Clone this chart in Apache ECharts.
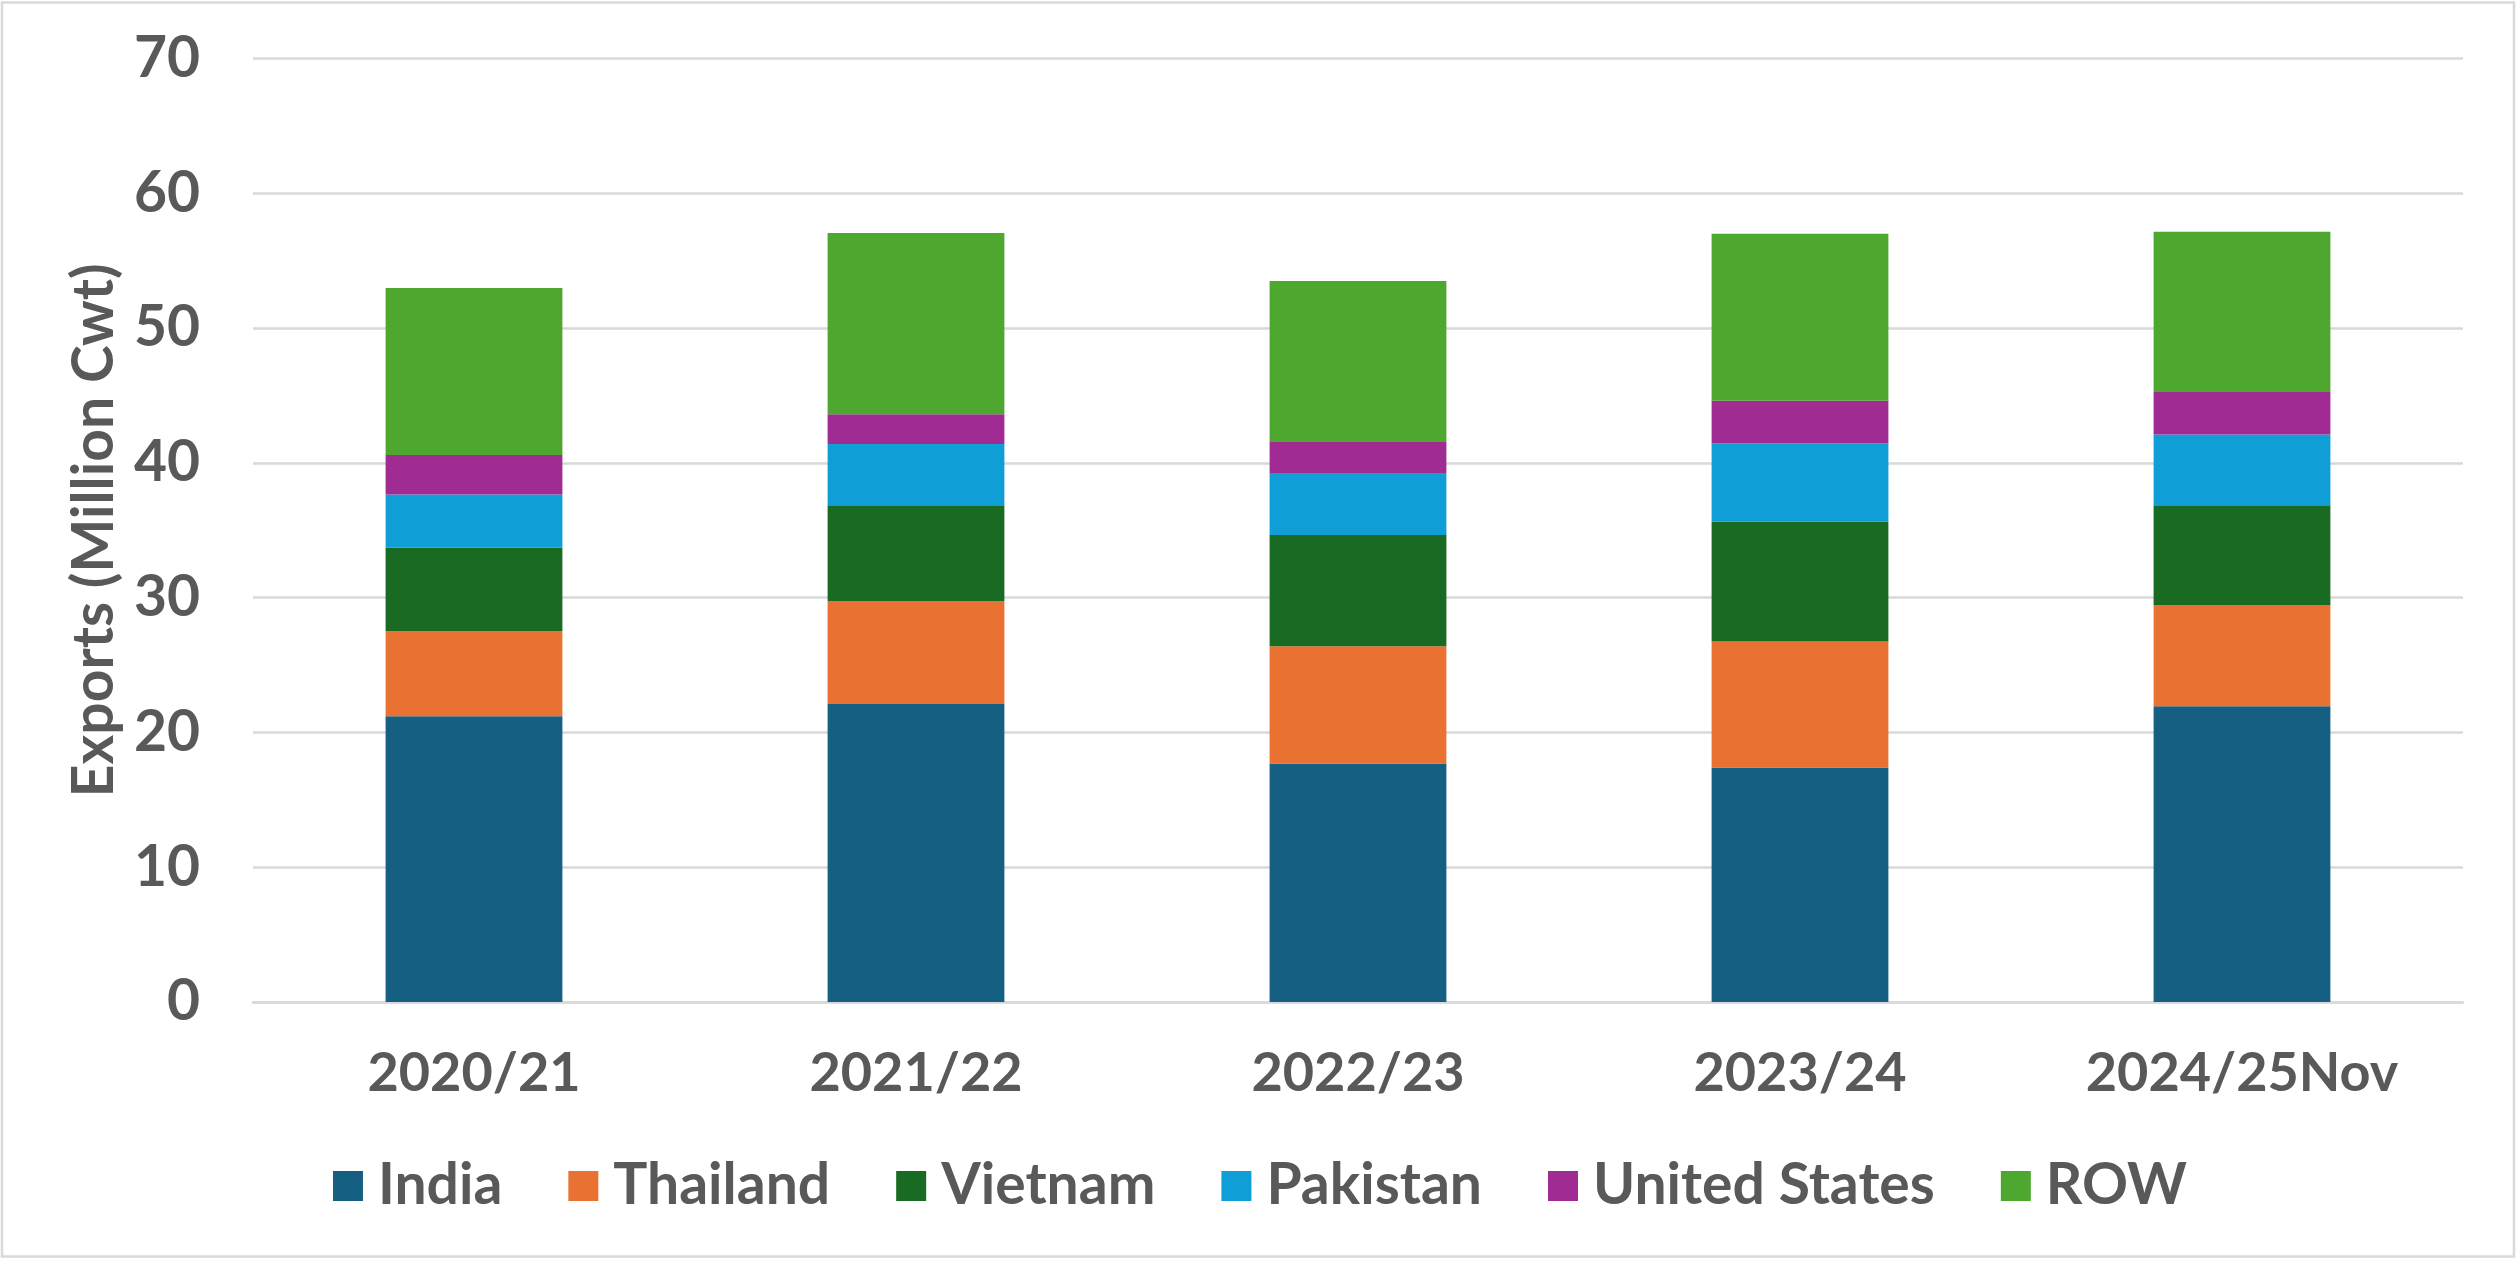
<!DOCTYPE html>
<html>
<head>
<meta charset="utf-8">
<script src="https://cdn.jsdelivr.net/npm/echarts@6/dist/echarts.min.js"></script>
<style>
html,body{margin:0;padding:0;background:#fff;}
#chart{width:2520px;height:1265px;}
</style>
</head>
<body>
<div id="chart"></div>
<script>
const categories = ['2020/21', '2021/22', '2022/23', '2023/24', '2024/25Nov'];
const india = [21.2, 22.1, 17.7, 17.4, 21.95];
const thailand = [6.3, 7.65, 8.7, 9.35, 7.5];
const vietnam = [6.2, 7.1, 8.25, 8.9, 7.4];
const pakistan = [3.95, 4.55, 4.6, 5.8, 5.25];
const unitedStates = [2.93, 2.2, 2.35, 3.15, 3.15];
const row = [12.4, 13.45, 11.9, 12.4, 11.9];
const yTicks = [0, 10, 20, 30, 40, 50, 60, 70];

const seriesDefs = [
  ['India', india, '#156082'],
  ['Thailand', thailand, '#E97132'],
  ['Vietnam', vietnam, '#196B24'],
  ['Pakistan', pakistan, '#0F9ED5'],
  ['United States', unitedStates, '#A02B93'],
  ['ROW', row, '#4EA72E']
];

const FONT = 'Lato';
const TXT = '#595959';

const chart = echarts.init(document.getElementById('chart'), null, {renderer: 'canvas'});
chart.setOption({
  animation: false,
  backgroundColor: '#ffffff',
  grid: {left: 253, right: 57, top: 58.5, bottom: 263, containLabel: false},
  legend: {
    data: seriesDefs.map(s => s[0]),
    left: 'center',
    top: 1151,
    itemWidth: 30,
    itemHeight: 30,
    itemGap: 66,
    icon: 'rect',
    textStyle: {fontFamily: FONT, fontWeight: 'bold', fontSize: 57, color: TXT, lineHeight: 60, padding: [0, 0, 0, 10]}
  },
  xAxis: {
    type: 'category',
    data: categories,
    axisTick: {show: false},
    axisLine: {show: true, lineStyle: {color: '#D9D9D9', width: 2.5}},
    axisLabel: {fontFamily: FONT, fontWeight: 'bold', fontSize: 54, color: TXT, margin: 45}
  },
  yAxis: {
    type: 'value',
    min: yTicks[0],
    max: yTicks[yTicks.length - 1],
    interval: 10,
    name: 'Exports (Million Cwt)',
    nameLocation: 'middle',
    nameGap: 120,
    nameTextStyle: {fontFamily: FONT, fontWeight: 'bold', fontSize: 57, color: TXT},
    axisLine: {show: false},
    axisTick: {show: false},
    splitLine: {lineStyle: {color: '#D9D9D9', width: 2.5}},
    axisLabel: {fontFamily: FONT, fontWeight: 'bold', fontSize: 57, color: TXT, margin: 53}
  },
  series: seriesDefs.map(s => ({
    name: s[0],
    type: 'bar',
    stack: 'total',
    data: s[1],
    barWidth: '40%',
    itemStyle: {color: s[2]}
  })),
  graphic: [{
    type: 'rect',
    shape: {x: 2, y: 2.5, width: 2512, height: 1254},
    style: {fill: 'none', stroke: '#D9D9D9', lineWidth: 2.5},
    silent: true
  }]
});
</script>
</body>
</html>
